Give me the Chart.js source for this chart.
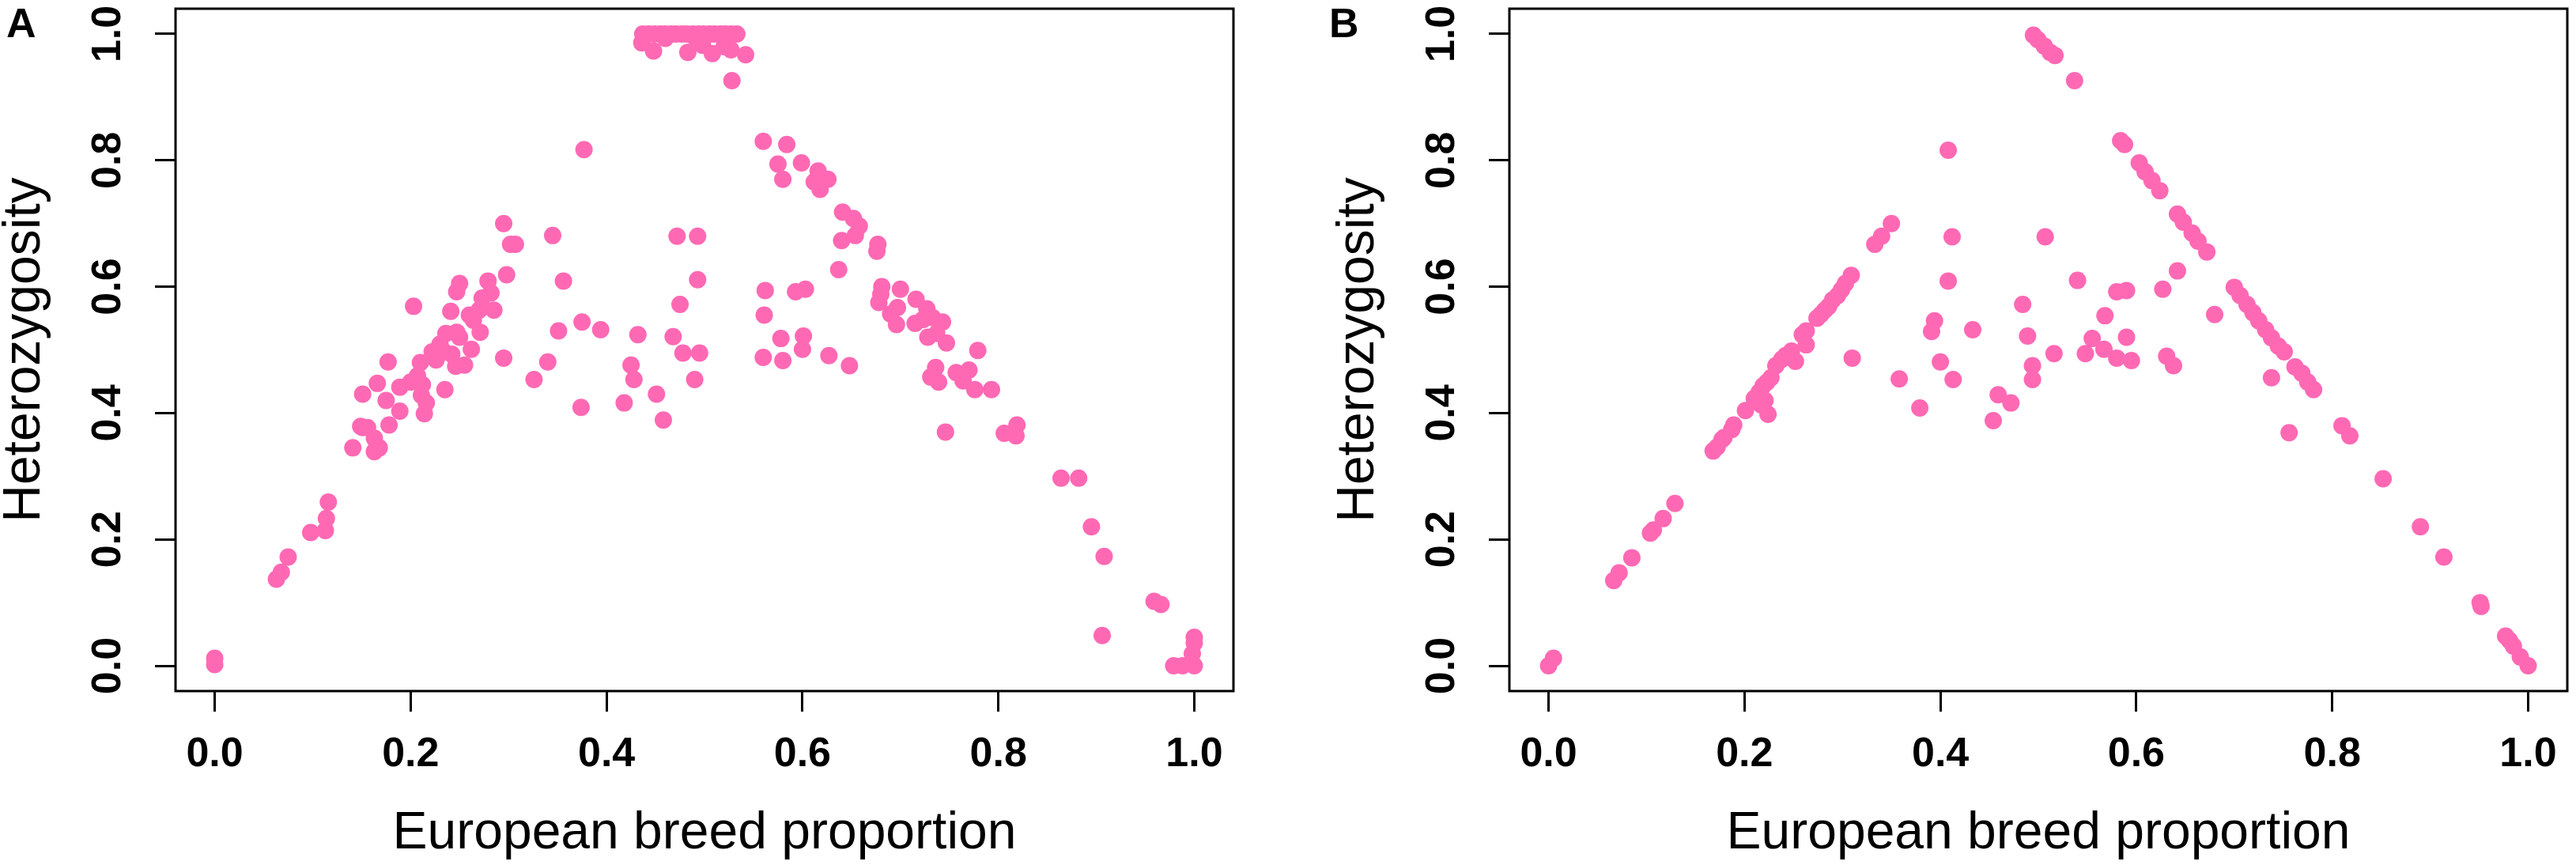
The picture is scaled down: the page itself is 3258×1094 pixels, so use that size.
<!DOCTYPE html>
<html>
<head>
<meta charset="utf-8">
<script src="https://cdn.jsdelivr.net/npm/chart.js@4.4.1/dist/chart.umd.min.js"></script>
<style>
  body { margin: 0; background: #fff; }
  #wrap { position: relative; width: 3258px; height: 1094px; background: #fff; }
  .panel { position: absolute; top: 0; width: 1571px; height: 1094px; }
  .tag { position: absolute; top: 3px; font: bold 52px 'Liberation Sans', Arial, sans-serif; line-height: 52px; color: #000; }
</style>
</head>
<body>
<div id="wrap">
  <div class="panel" style="left:0px"><canvas id="chartA" width="1571" height="1094"></canvas></div>
  <div class="panel" style="left:1687px"><canvas id="chartB" width="1571" height="1094"></canvas></div>
  <div class="tag" style="left:8px">A</div>
  <div class="tag" style="left:1681px">B</div>
</div>
<script>
// axis ticks
const tickVals = [0, 0.2, 0.4, 0.6, 0.8, 1.0];
const tickLabels = ['0.0', '0.2', '0.4', '0.6', '0.8', '1.0'];
const xTitle = 'European breed proportion';
const yTitle = 'Heterozygosity';

// panel A: observed
const aEuro = [
  0.000, 0.000, 0.063, 0.068, 0.075, 0.098, 0.113, 0.114, 0.116,
  0.141, 0.151, 0.149, 0.156, 0.163, 0.168, 0.163,
  0.178, 0.189, 0.214, 0.175, 0.216, 0.211, 0.151,
  0.166, 0.189, 0.200, 0.212, 0.235, 0.207,
  0.177, 0.210, 0.226, 0.246, 0.255,
  0.222, 0.234, 0.242, 0.262, 0.230,
  0.236, 0.247, 0.250, 0.271,
  0.264, 0.260, 0.270, 0.285, 0.241, 0.203,
  0.273, 0.282, 0.279, 0.247, 0.250,
  0.298, 0.302, 0.307, 0.295, 0.295,
  0.345, 0.356, 0.375, 0.394, 0.351,
  0.340, 0.326, 0.374, 0.377,
  0.418, 0.425, 0.428, 0.432, 0.451, 0.458,
  0.468, 0.478, 0.495, 0.490, 0.475, 0.493, 0.472, 0.493,
  0.437, 0.443, 0.449, 0.455, 0.460, 0.466, 0.471, 0.477, 0.482,
  0.488, 0.494, 0.499, 0.505, 0.510, 0.516, 0.521, 0.527, 0.533,
  0.436, 0.448, 0.483, 0.498, 0.508, 0.520, 0.527, 0.542, 0.528, 0.460, 0.490,
  0.560, 0.584, 0.575, 0.580, 0.599,
  0.616, 0.626, 0.612, 0.618,
  0.641, 0.652, 0.658, 0.654, 0.640,
  0.677, 0.676, 0.637,
  0.562, 0.593, 0.603, 0.561,
  0.578, 0.601, 0.600, 0.560, 0.580, 0.627, 0.648,
  0.681, 0.700, 0.680, 0.678, 0.697, 0.690, 0.696,
  0.716, 0.727, 0.715, 0.723, 0.733, 0.743,
  0.728, 0.737, 0.747, 0.779,
  0.736, 0.731, 0.739, 0.757, 0.770, 0.764, 0.776, 0.793,
  0.746, 0.806, 0.819, 0.818,
  0.864, 0.882, 0.895, 0.908,
  0.959, 0.966, 0.906,
  1.000, 1.000, 0.998, 0.979, 0.988, 1.000
];
const aHet = [
  0.012, 0.002, 0.137, 0.148, 0.172, 0.211, 0.214, 0.233, 0.259,
  0.345, 0.377, 0.379, 0.377, 0.360, 0.345, 0.339,
  0.381, 0.403, 0.399, 0.420, 0.416, 0.428, 0.430,
  0.447, 0.441, 0.449, 0.445, 0.437, 0.459,
  0.481, 0.480, 0.484, 0.474, 0.476,
  0.497, 0.497, 0.493, 0.501, 0.509,
  0.526, 0.528, 0.520, 0.528,
  0.547, 0.555, 0.563, 0.563, 0.561, 0.569,
  0.582, 0.590, 0.609, 0.592, 0.605,
  0.619, 0.667, 0.667, 0.700, 0.487,
  0.681, 0.609, 0.544, 0.532, 0.530,
  0.481, 0.453, 0.409, 0.817,
  0.416, 0.476, 0.453, 0.524, 0.430, 0.389,
  0.521, 0.495, 0.495, 0.453, 0.572, 0.611, 0.680, 0.680,
  1.000, 1.000, 1.000, 1.000, 1.000, 1.000, 1.000, 1.000, 1.000,
  1.000, 1.000, 1.000, 1.000, 1.000, 1.000, 1.000, 1.000, 1.000,
  0.986, 0.973, 0.971, 0.982, 0.969, 0.980, 0.975, 0.967, 0.926, 0.993, 0.995,
  0.830, 0.825, 0.794, 0.770, 0.796,
  0.783, 0.770, 0.766, 0.754,
  0.718, 0.708, 0.696, 0.681, 0.673,
  0.667, 0.656, 0.627,
  0.594, 0.592, 0.596, 0.555,
  0.518, 0.522, 0.501, 0.488, 0.483, 0.491, 0.475,
  0.600, 0.596, 0.588, 0.575, 0.567, 0.557, 0.540,
  0.580, 0.565, 0.542, 0.548, 0.551, 0.544,
  0.520, 0.526, 0.511, 0.499,
  0.472, 0.457, 0.449, 0.464, 0.468, 0.451, 0.437, 0.437,
  0.370, 0.368, 0.381, 0.364,
  0.297, 0.297, 0.220, 0.173,
  0.102, 0.097, 0.048,
  0.045, 0.036, 0.019, 0.000, 0.000, 0.000
];

// panel B: expected
const bEuro = [
  0.000, 0.005, 0.0665, 0.072, 0.085, 0.104, 0.107, 0.117, 0.129,
  0.168, 0.172, 0.177, 0.179, 0.187, 0.189, 0.201,
  0.210, 0.215, 0.219, 0.223, 0.227,
  0.232, 0.238, 0.242, 0.248, 0.259, 0.263,
  0.274, 0.278, 0.282, 0.286, 0.290, 0.295, 0.299, 0.303, 0.309,
  0.333, 0.340, 0.350,
  0.224, 0.221, 0.217, 0.252, 0.263, 0.310, 0.358, 0.379,
  0.408, 0.412, 0.408, 0.507, 0.540,
  0.394, 0.391, 0.433, 0.484, 0.489, 0.400, 0.413,
  0.494, 0.494, 0.516, 0.548, 0.555, 0.567, 0.568,
  0.580, 0.590, 0.627, 0.642, 0.590, 0.580, 0.595,
  0.631, 0.638, 0.680, 0.738, 0.756,
  0.459, 0.472, 0.454,
  0.495, 0.4995, 0.506, 0.512, 0.517, 0.537,
  0.584, 0.588, 0.603, 0.609, 0.616, 0.624,
  0.642, 0.648, 0.657, 0.663, 0.672,
  0.700, 0.706, 0.713, 0.719, 0.725, 0.732, 0.738, 0.745, 0.751,
  0.762, 0.769, 0.775, 0.781,
  0.810, 0.818, 0.852, 0.890, 0.914,
  0.951, 0.952, 0.977, 0.981, 0.985, 0.992, 1.000
];
const bHet = [
  0.000, 0.012, 0.135, 0.147, 0.171, 0.210, 0.215, 0.233, 0.257,
  0.340, 0.346, 0.358, 0.361, 0.374, 0.381, 0.404,
  0.423, 0.433, 0.443, 0.449, 0.456,
  0.475, 0.485, 0.491, 0.498, 0.524, 0.530,
  0.550, 0.556, 0.563, 0.569, 0.579, 0.586, 0.595, 0.605, 0.618,
  0.667, 0.680, 0.700,
  0.398, 0.420, 0.413, 0.482, 0.508, 0.487, 0.454, 0.408,
  0.816, 0.679, 0.609, 0.679, 0.610,
  0.546, 0.529, 0.532, 0.572, 0.522, 0.481, 0.453,
  0.475, 0.453, 0.494, 0.494, 0.518, 0.501, 0.554,
  0.592, 0.594, 0.596, 0.625, 0.520, 0.487, 0.483,
  0.490, 0.475, 0.556, 0.456, 0.369,
  0.429, 0.416, 0.388,
  0.998, 0.991, 0.981, 0.971, 0.966, 0.926,
  0.831, 0.825, 0.796, 0.782, 0.768, 0.752,
  0.715, 0.702, 0.685, 0.672, 0.655,
  0.599, 0.586, 0.572, 0.559, 0.546, 0.532, 0.519, 0.506, 0.497,
  0.473, 0.463, 0.449, 0.437,
  0.380, 0.364, 0.296, 0.220, 0.172,
  0.100, 0.094, 0.047, 0.040, 0.031, 0.014, 0.000
];

const pink = '#FF69B4';
const fontFamily = "'Liberation Sans', Arial, sans-serif";

// R-style box around the plotting region
const boxPlugin = {
  id: 'box',
  afterDraw(chart) {
    const { ctx, chartArea } = chart;
    ctx.save();
    ctx.strokeStyle = '#000';
    ctx.lineWidth = 3;
    ctx.strokeRect(chartArea.left, chartArea.top, chartArea.right - chartArea.left, chartArea.bottom - chartArea.top);
    ctx.restore();
  }
};

function makePanel(canvasId, xs, ys) {
  const points = xs.map((x, i) => ({ x: x, y: ys[i] }));
  const axisCommon = {
    type: 'linear',
    min: -0.04,
    max: 1.04,
    afterBuildTicks: scale => { scale.ticks = tickVals.map(v => ({ value: v })); },
    grid: {
      display: true,
      drawOnChartArea: false,
      drawTicks: true,
      tickLength: 26,
      tickWidth: 3,
      tickColor: '#000'
    },
    border: { display: false }
  };

  return new Chart(document.getElementById(canvasId), {
    type: 'scatter',
    data: {
      datasets: [{
        data: points,
        pointRadius: 11,
        pointHoverRadius: 11,
        pointBackgroundColor: pink,
        pointBorderWidth: 0,
        showLine: false
      }]
    },
    options: {
      responsive: false,
      devicePixelRatio: 1,
      animation: false,
      events: [],
      layout: { padding: { left: 0, top: 7, right: 6, bottom: 0 } },
      plugins: { legend: { display: false }, tooltip: { enabled: false } },
      scales: {
        x: Object.assign({}, axisCommon, {
          position: 'bottom',
          ticks: {
            autoSkip: false,
            maxRotation: 0,
            padding: 23,
            color: '#000',
            font: { family: fontFamily, size: 52, weight: 'bold' },
            callback: (v, i) => tickLabels[i]
          },
          title: {
            display: true,
            text: xTitle,
            color: '#000',
            font: { family: fontFamily, size: 66 },
            padding: { top: 0, bottom: 0 }
          },
          afterFit: scale => {
            scale.height = 220;
            scale.paddingLeft = 0;
            scale.paddingRight = 0;
          }
        }),
        y: Object.assign({}, axisCommon, {
          position: 'left',
          ticks: {
            autoSkip: false,
            minRotation: 90,
            maxRotation: 90,
            crossAlign: 'center',
            padding: 22,
            color: '#000',
            font: { family: fontFamily, size: 52, weight: 'bold' },
            callback: (v, i) => tickLabels[i]
          },
          title: {
            display: true,
            text: yTitle,
            color: '#000',
            font: { family: fontFamily, size: 66 },
            padding: { top: -8, bottom: 0 }
          },
          afterFit: scale => {
            scale.width = 222;
            scale.paddingTop = 0;
            scale.paddingBottom = 0;
          }
        })
      }
    },
    plugins: [boxPlugin]
  });
}

makePanel('chartA', aEuro, aHet);
makePanel('chartB', bEuro, bHet);
</script>
</body>
</html>
